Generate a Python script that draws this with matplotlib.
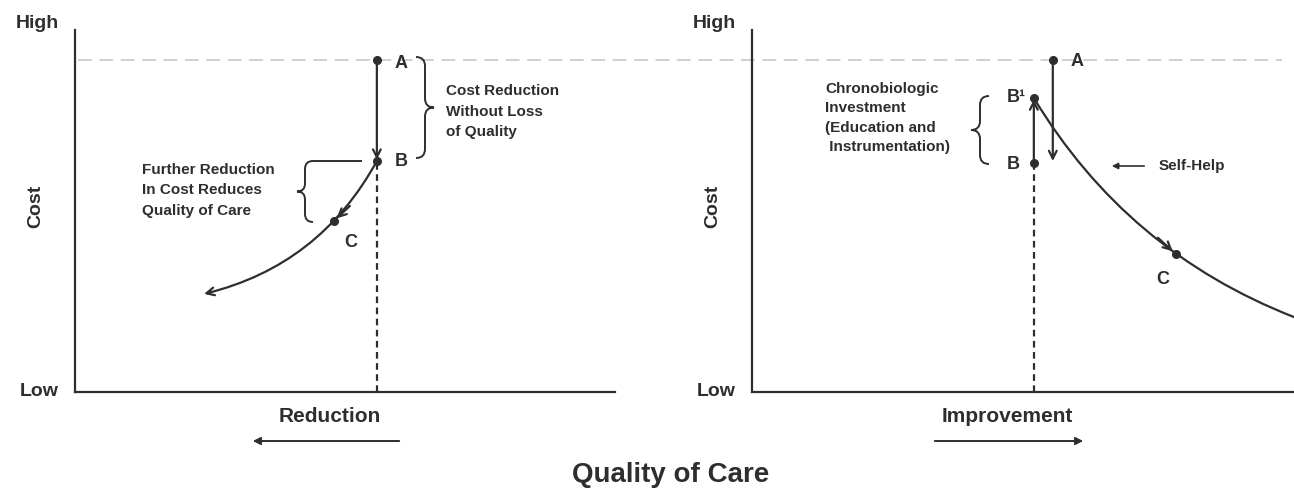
import matplotlib
matplotlib.use('Agg')
import matplotlib.pyplot as plt
from matplotlib.patches import FancyArrowPatch, PathPatch
from matplotlib.path import Path
from matplotlib import transforms

plt.rcParams['font.family'] = ['Liberation Sans', 'DejaVu Sans']
plt.rcParams['font.weight'] = 'bold'

W, H = 1294, 491
INK = '#2e2e2e'

# left panel: cost reduction (quality / cost on a 0-10 scale)
left_names = ['A', 'B', 'C']
left_x = [5.59, 5.59, 4.79]
left_y = [9.17, 6.38, 4.72]
left_curve_end = [2.39, 2.71]

# right panel: chronobiologic investment
right_names = ['A', 'B\u00b9', 'B', 'C']
right_x = [5.55, 5.20, 5.20, 7.82]
right_y = [9.17, 8.12, 6.33, 3.81]
right_curve_end = [10.0, 2.07]

high_cost = 9.17

fig = plt.figure(figsize=(W / 100, H / 100), dpi=100)
axL = fig.add_axes([75 / W, 1 - 392 / H, 540 / W, 362 / H])
axR = fig.add_axes([752 / W, 1 - 392 / H, 542 / W, 362 / H])
for ax in (axL, axR):
    ax.set_xlim(0, 10)
    ax.set_ylim(0, 10)
    ax.set_xticks([])
    ax.set_yticks([])
    ax.patch.set_visible(False)
    for s in ['top', 'right']:
        ax.spines[s].set_visible(False)
    for s in ['left', 'bottom']:
        ax.spines[s].set_color(INK)
        ax.spines[s].set_linewidth(1.6)


def ftxt(x, y, s, **kw):
    # text placed in figure pixels (y from top)
    kw.setdefault('color', INK)
    fig.text(x / W, 1 - y / H, s, **kw)


def brace(xs, y0, y1, w, top_ext=None):
    # curly brace in figure pixels, w > 0 points right, w < 0 points left
    ym = (y0 + y1) / 2
    a = abs(w)
    verts = [(xs - w, y0), (xs, y0), (xs, y0 + a),
             (xs, ym - a), (xs, ym), (xs + w, ym),
             (xs, ym), (xs, ym + a),
             (xs, y1 - a), (xs, y1), (xs - w, y1)]
    codes = [Path.MOVETO, Path.CURVE3, Path.CURVE3,
             Path.LINETO, Path.CURVE3, Path.CURVE3,
             Path.CURVE3, Path.CURVE3,
             Path.LINETO, Path.CURVE3, Path.CURVE3]
    if top_ext is not None:
        verts = [(top_ext, y0)] + verts
        codes = [Path.MOVETO] + [Path.LINETO] + codes[1:]
    verts = [(x / W, 1 - y / H) for x, y in verts]
    fig.add_artist(PathPatch(Path(verts, codes), transform=fig.transFigure,
                             fill=False, edgecolor=INK, lw=1.4))


def arrow(ax, p0, p1, rad=0.0, style='->', ms=14, sA=0, sB=0):
    ax.add_patch(FancyArrowPatch(p0, p1, connectionstyle=f'arc3,rad={rad}',
                                 arrowstyle=style, mutation_scale=ms, color=INK,
                                 lw=1.6, shrinkA=sA, shrinkB=sB, clip_on=False))


# light dashed "high cost" line across both panels
trans = transforms.blended_transform_factory(fig.transFigure, axL.transData)
axL.plot([78 / W, 1282 / W], [high_cost, high_cost], transform=trans,
         color='#c4c4c4', lw=1.1, dashes=(9, 5), clip_on=False, zorder=0)

# ---- left panel
axL.plot([left_x[1], left_x[1]], [0, left_y[1]], color=INK, lw=1.6, dashes=(3, 2))
arrow(axL, (left_x[0], left_y[0]), (left_x[1], left_y[1]), sB=1)
arrow(axL, (left_x[1], left_y[1]), left_curve_end, rad=-0.22)
arrow(axL, (left_x[2] + 0.3, left_y[2] + 0.42), (left_x[2], left_y[2]), sB=3)
axL.plot(left_x, left_y, 'o', color=INK, ms=5.5, clip_on=False)
left_offsets = [(24, -3), (24, 0), (17, -21)]
for name, x, y, off in zip(left_names, left_x, left_y, left_offsets):
    axL.annotate(name, (x, y), xytext=off, textcoords='offset pixels',
                 ha='center', va='center', fontsize=13, color=INK)

brace(425, 57, 158, 9)
ftxt(446, 111.5, 'Cost Reduction\nWithout Loss\nof Quality', fontsize=11,
     ha='left', va='center', linespacing=1.6)
brace(305, 161, 222, -8, top_ext=362)
ftxt(142, 190.5, 'Further Reduction\nIn Cost Reduces\nQuality of Care', fontsize=11,
     ha='left', va='center', linespacing=1.6)

# ---- right panel
axR.plot([right_x[2], right_x[2]], [0, right_y[2]], color=INK, lw=1.6, dashes=(3, 2))
arrow(axR, (right_x[0], right_y[0]), (right_x[0], left_y[1]))
arrow(axR, (right_x[2], right_y[2]), (right_x[1], right_y[1]), sB=1)
arrow(axR, (right_x[1], right_y[1]), right_curve_end, rad=0.17, style='-')
arrow(axR, (right_x[3] - 0.33, right_y[3] + 0.45), (right_x[3], right_y[3]), sB=3)
axR.plot(right_x, right_y, 'o', color=INK, ms=5.5, clip_on=False)
right_offsets = [(24, -1), (-18, 1), (-21, -2), (-13, -25)]
for name, x, y, off in zip(right_names, right_x, right_y, right_offsets):
    axR.annotate(name, (x, y), xytext=off, textcoords='offset pixels',
                 ha='center', va='center', fontsize=13, color=INK)

brace(980, 96, 164, -9)
ftxt(825, 118, 'Chronobiologic\nInvestment\n(Education and\n Instrumentation)',
     fontsize=11, ha='left', va='center', linespacing=1.5)
ftxt(1159, 166, 'Self-Help', fontsize=11, ha='left', va='center')
fig.add_artist(FancyArrowPatch((1147 / W, 1 - 166 / H), (1109 / W, 1 - 166 / H),
                               transform=fig.transFigure, arrowstyle='-|>',
                               mutation_scale=9, color=INK, lw=1.2))

# axis end labels
for x0 in (37, 714):
    ftxt(x0, 23, 'High', fontsize=14, ha='center', va='center')
    ftxt(x0 + 2, 392, 'Low', fontsize=14, ha='center', va='center')
    ftxt(x0 - 1, 206, 'Cost', fontsize=14, ha='center', va='center', rotation=90)

ftxt(330, 417, 'Reduction', fontsize=15, ha='center', va='center')
fig.add_artist(FancyArrowPatch((402 / W, 1 - 441 / H), (250 / W, 1 - 441 / H),
                               transform=fig.transFigure, arrowstyle='-|>',
                               mutation_scale=11, color=INK, lw=1.4))
ftxt(1007, 417, 'Improvement', fontsize=15, ha='center', va='center')
fig.add_artist(FancyArrowPatch((932 / W, 1 - 441 / H), (1086 / W, 1 - 441 / H),
                               transform=fig.transFigure, arrowstyle='-|>',
                               mutation_scale=11, color=INK, lw=1.4))

ftxt(671, 475, 'Quality of Care', fontsize=20, ha='center', va='center')

fig.savefig('out.png', dpi=100, facecolor='white')
